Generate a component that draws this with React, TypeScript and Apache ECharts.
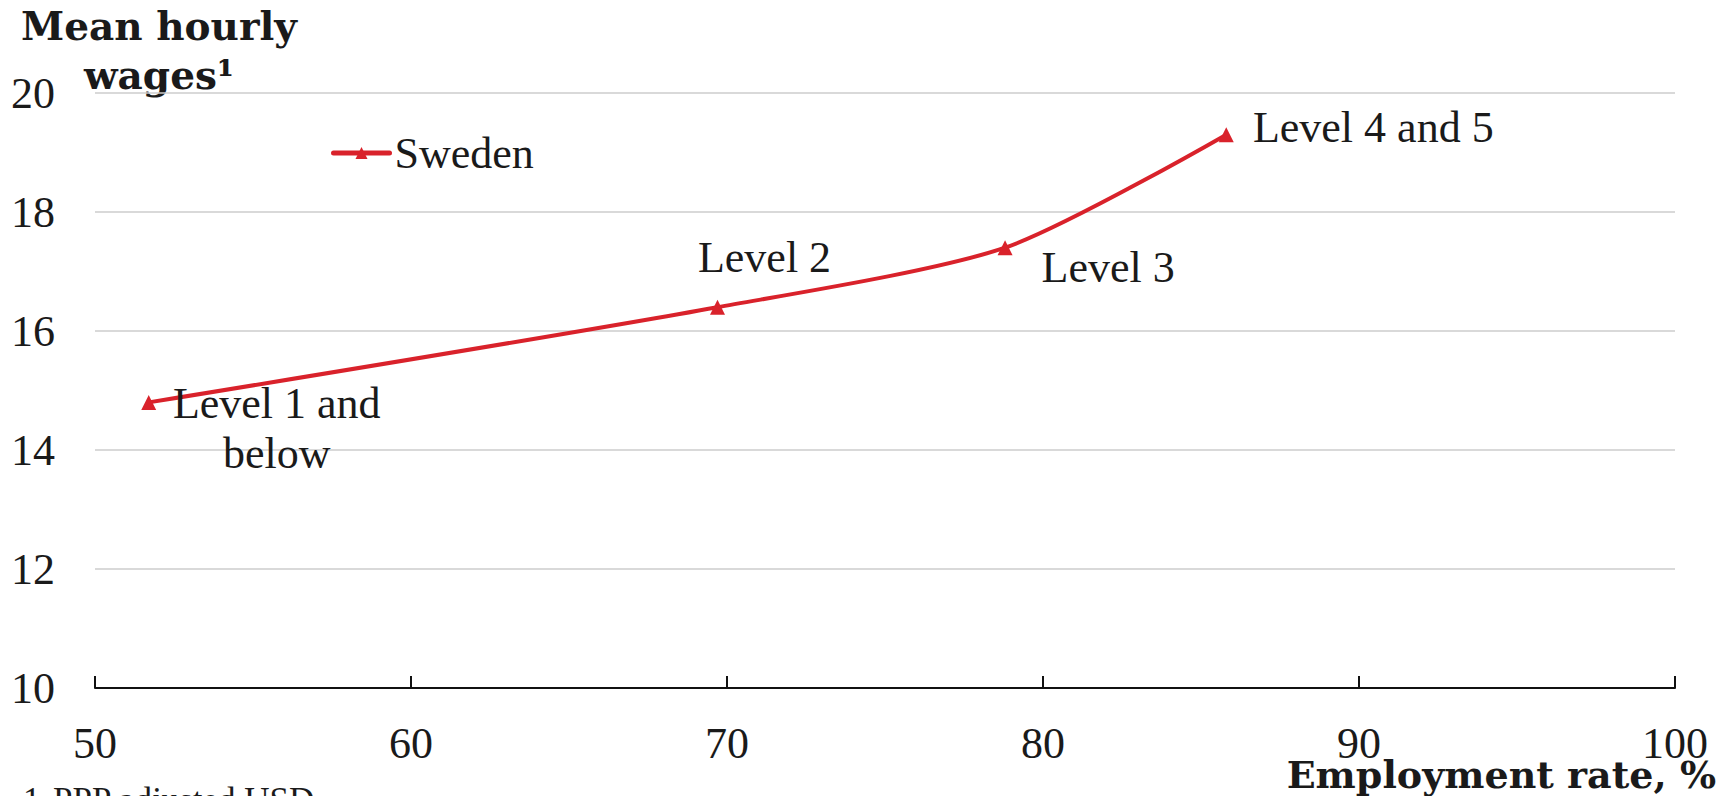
import React, { useEffect, useRef } from "react";
import * as echarts from "echarts";

// ---- data ----
const employmentRate = [51.7, 69.7, 78.8, 85.8];
const meanHourlyWage = [14.8, 16.4, 17.4, 19.3];
const levelLabels = ["Level 1 and\nbelow", "Level 2", "Level 3", "Level 4 and 5"];
const seriesName = "Sweden";
const xTicks = { min: 50, max: 100, interval: 10 };
const yTicks = { min: 10, max: 20, interval: 2 };

// ---- styling ----
const labelOffsets = [
  [128, 26],
  [47, -50],
  [103, 20],
  [147, -7],
];
const RED = "#d9222b";
const INK = "#1a1a1a";
const SERIF = '"Liberation Serif", serif';
const BOLD_SERIF = '"DejaVu Serif", serif';

export default function App() {
  const ref = useRef<HTMLDivElement>(null);

  useEffect(() => {
    if (!ref.current) return;
    const chart = echarts.init(ref.current, undefined, { renderer: "svg" });

    const data = employmentRate.map((x, i) => ({
      value: [x, meanHourlyWage[i]],
      label: {
        show: true,
        formatter: levelLabels[i],
        position: "inside",
        offset: labelOffsets[i],
        align: "center",
        verticalAlign: "middle",
        fontSize: 44,
        lineHeight: 50,
        fontFamily: SERIF,
        color: INK,
      },
    }));

    chart.setOption({
      animation: false,
      backgroundColor: "#ffffff",
      grid: { left: 95, right: 60, top: 93, bottom: 108, containLabel: false },
      legend: {
        data: [seriesName],
        left: 331,
        top: 131,
        padding: 0,
        itemWidth: 56,
        itemHeight: 15,
        lineStyle: { width: 5, cap: "round", color: RED },
        textStyle: { fontSize: 44, fontFamily: SERIF, color: INK },
      },
      xAxis: {
        type: "value",
        min: xTicks.min,
        max: xTicks.max,
        interval: xTicks.interval,
        axisLine: { show: true, lineStyle: { color: "#111", width: 2 } },
        axisTick: { show: true, inside: true, length: 12, lineStyle: { color: "#111", width: 2 } },
        splitLine: { show: false },
        axisLabel: { margin: 33, fontSize: 44, fontFamily: SERIF, color: INK },
      },
      yAxis: {
        type: "value",
        min: yTicks.min,
        max: yTicks.max,
        interval: yTicks.interval,
        axisLine: { show: false },
        axisTick: { show: false },
        splitLine: { show: true, lineStyle: { color: "#cccccc", width: 1.5 } },
        axisLabel: { margin: 40, fontSize: 44, fontFamily: SERIF, color: INK, padding: [8, 0, 0, 0] },
      },
      series: [
        {
          name: seriesName,
          type: "line",
          data,
          smooth: 0.25,
          symbol: "triangle",
          symbolSize: 15,
          lineStyle: { color: RED, width: 4 },
          itemStyle: { color: RED },
        },
      ],
      graphic: [
        {
          type: "text",
          x: 159,
          y: 50,
          style: {
            text: "Mean hourly\nwages¹",
            fontSize: 39,
            fontWeight: "bold",
            fontFamily: BOLD_SERIF,
            fill: INK,
            align: "center",
            verticalAlign: "middle",
            lineHeight: 49,
          },
        },
        {
          type: "text",
          x: 1716,
          y: 774,
          style: {
            text: "Employment rate, %",
            fontSize: 38,
            fontWeight: "bold",
            fontFamily: BOLD_SERIF,
            fill: INK,
            align: "right",
            verticalAlign: "middle",
          },
        },
        {
          type: "text",
          x: 23,
          y: 800,
          style: {
            text: "1",
            fontSize: 35,
            fontFamily: SERIF,
            fill: INK,
            align: "left",
            verticalAlign: "middle",
          },
        },
        {
          type: "text",
          x: 53,
          y: 800,
          style: {
            text: "PPP adjusted USD",
            fontSize: 35,
            fontFamily: SERIF,
            fill: INK,
            align: "left",
            verticalAlign: "middle",
          },
        },
      ],
    });

    return () => chart.dispose();
  }, []);

  return (
    <div
      ref={ref}
      style={{ position: "absolute", left: 0, top: 0, width: 1735, height: 796 }}
    />
  );
}
